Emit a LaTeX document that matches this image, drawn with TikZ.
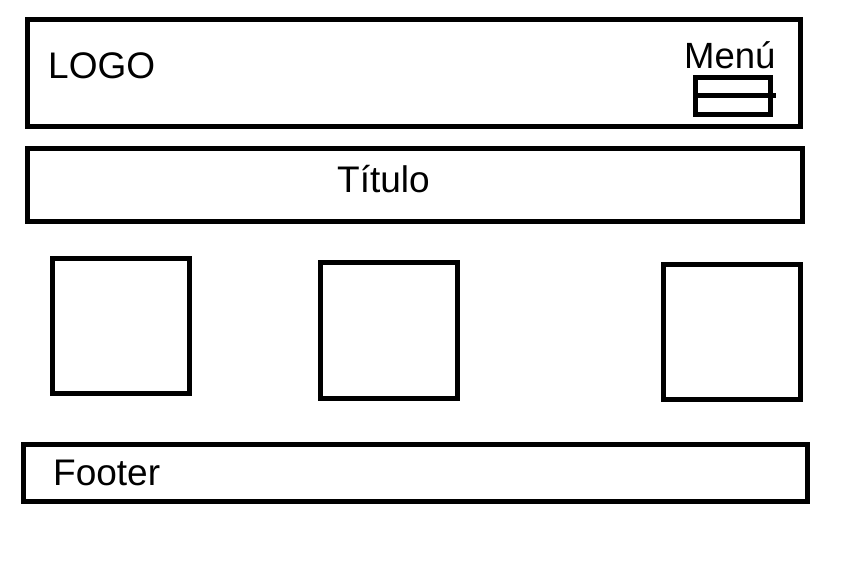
\documentclass[tikz,border=0pt]{standalone}
\usepackage{fontspec}
\setmainfont{Liberation Sans}
\begin{document}
\begin{tikzpicture}[x=1pt,y=-1pt,
    box/.style={draw=black,line width=5pt,rectangle,inner sep=0pt},
    label/.style={inner sep=0pt,anchor=base west,font=\fontsize{37}{44}\selectfont}
  ]
  \useasboundingbox (0,0) rectangle (868,573);

  % header
  \node[box,minimum width=773pt,minimum height=107pt] (header) at (413.5,72.5) {};
  \node[label] (logo) at (48,78) {LOGO};
  \node[label,font=\fontsize{36.5}{43}\selectfont] (menu) at (684,68) {Menú};
  \node[box,minimum width=75pt,minimum height=37pt] (menuicon) at (733,95.5) {};
  \draw[line width=4.5pt] (menuicon.west) -- ([xshift=3pt]menuicon.east);

  % title
  \node[box,minimum width=775pt,minimum height=73pt] (title) at (414.5,184.5) {};
  \node[label] (titletext) at (337,192) {Título};

  % content boxes
  \node[box,minimum width=137pt,minimum height=135pt] (boxA) at (120.5,325.5) {};
  \node[box,minimum width=137pt,minimum height=136pt] (boxB) at (388.5,330) {};
  \node[box,minimum width=137pt,minimum height=135pt] (boxC) at (731.5,331.5) {};

  % footer
  \node[box,minimum width=784pt,minimum height=57pt] (footer) at (415,472.5) {};
  \node[label] (footertext) at (53,485) {Footer};
\end{tikzpicture}
\end{document}
